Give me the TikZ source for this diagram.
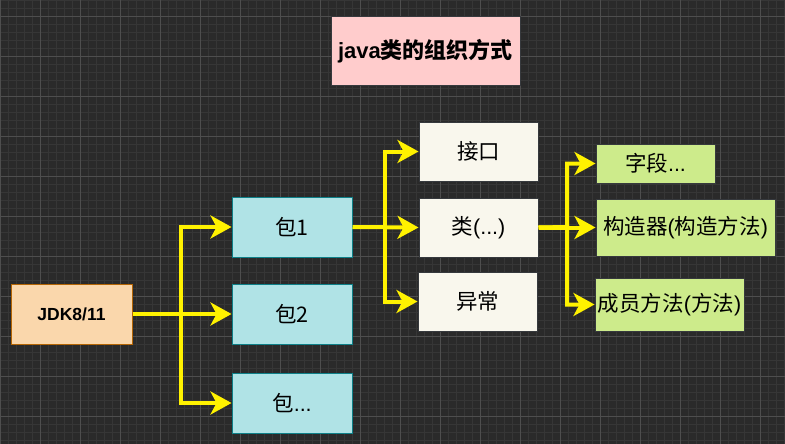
\documentclass[tikz,border=0pt]{standalone}
\usepackage{fontspec}
\setmainfont{Liberation Sans}
\newfontfamily\cjk{Noto Sans CJK SC}
\usetikzlibrary{arrows.meta,calc}
\newcommand{\zh}[1]{{\cjk #1}}
\definecolor{bgdark}{RGB}{42,42,42}
\definecolor{gridminor}{RGB}{54,54,54}
\definecolor{gridmajor}{RGB}{78,78,78}
\definecolor{peach}{RGB}{250,215,172}
\definecolor{peachline}{RGB}{180,101,4}
\definecolor{aqua}{RGB}{176,227,230}
\definecolor{aqualine}{RGB}{14,128,136}
\definecolor{paper}{RGB}{249,247,237}
\definecolor{lime}{RGB}{205,235,139}
\definecolor{darkline}{RGB}{54,57,61}
\definecolor{pinkbox}{RGB}{255,204,204}

\begin{document}
\begin{tikzpicture}[x=1pt,y=-1pt,
	box/.style={draw=darkline,line width=1pt,inner sep=0pt,font=\fontsize{21.5}{23}\selectfont,text=black},
	flow/.style={draw=yellow,line width=4pt,-{Stealth[length=21pt,width=23pt,inset=6pt]}}]
	\useasboundingbox (0,0) rectangle (785,444);
	\fill[bgdark] (0,0) rectangle (785,444);
	%grid
	\foreach \x in {0,8,...,784}{
	\draw[gridminor,line width=0.6pt] (\x,0) -- (\x,444);}
	\foreach \y in {0,8,...,440}{
	\draw[gridminor,line width=0.6pt] (0,\y) -- (785,\y);}
	\foreach \x in {0,40,...,760}{
	\draw[gridmajor,line width=0.8pt] (\x,0) -- (\x,444);}
	\foreach \y in {16,56,...,416}{
	\draw[gridmajor,line width=0.8pt] (0,\y) -- (785,\y);}
	
	%boxes
	\node[box,fill=pinkbox,minimum width=189pt,minimum height=69pt,font=\fontsize{22}{24}\selectfont\bfseries] (title) at (425.5,51.5) {java\zh{类的组织方式}};
	\node[box,draw=peachline,fill=peach,minimum width=121pt,minimum height=60pt,font=\fontsize{17.5}{19}\selectfont\bfseries] (jdk) at (71.5,314) {JDK8/11};
	\node[box,draw=aqualine,fill=aqua,minimum width=120pt,minimum height=60pt] (pkgA) at (292,227) {\zh{包1}};
	\node[box,draw=aqualine,fill=aqua,minimum width=120pt,minimum height=60pt] (pkgB) at (292,314) {\zh{包2}};
	\node[box,draw=aqualine,fill=aqua,minimum width=120pt,minimum height=60pt] (pkgC) at (292,403) {\zh{包}...};
	\node[box,fill=paper,minimum width=119pt,minimum height=59pt] (iface) at (478.5,151.5) {\zh{接口}};
	\node[box,fill=paper,minimum width=119pt,minimum height=59pt] (cls) at (478.5,227.5) {\zh{类}(...)};
	\node[box,fill=paper,minimum width=119pt,minimum height=59pt] (exc) at (477.5,301.5) {\zh{异常}};
	\node[box,fill=lime,minimum width=119pt,minimum height=39pt] (field) at (655.5,163.5) {\zh{字段}...};
	\node[box,fill=lime,minimum width=179pt,minimum height=57pt] (ctor) at (685.5,227.5) {\zh{构造器}(\zh{构造方法})};
	\node[box,fill=lime,minimum width=149pt,minimum height=53pt] (meth) at (669.5,304.5) {\zh{成员方法}(\zh{方法})};
	
	%connectors
	\coordinate (jfork) at (181,314);
	\coordinate (pfork) at (385,227);
	\coordinate (cfork) at (567,227);
	\draw[flow] (jdk.east) -- (jfork) |- (pkgA.west);
	\draw[flow] (jdk.east) -- (pkgB.west);
	\draw[flow] (jdk.east) -- (jfork) |- (pkgC.west);
	\draw[flow] (pkgA.east) -- (pfork) |- (iface.west);
	\draw[flow] (pkgA.east) -- (cls.west);
	\draw[flow] (pkgA.east) -- (pfork) |- (exc.west);
	\draw[flow] (cls.east) -- (cfork) |- (field.west);
	\draw[flow] (cls.east) -- (ctor.west);
	\draw[flow] (cls.east) -- (cfork) |- (meth.west);
\end{tikzpicture}
\end{document}
